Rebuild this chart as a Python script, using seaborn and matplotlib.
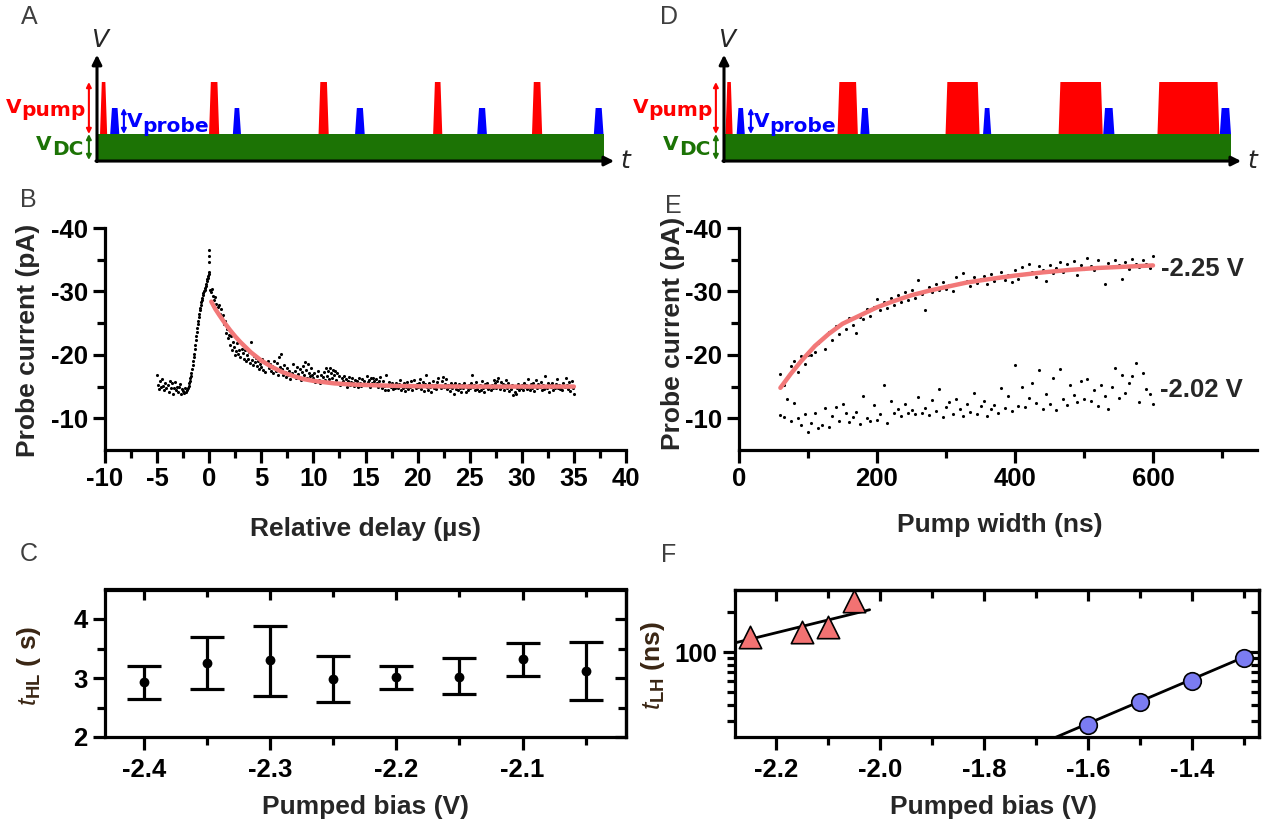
import numpy as np
import pandas as pd
import matplotlib
matplotlib.use('Agg')
import matplotlib.pyplot as plt
import seaborn as sns
from matplotlib.ticker import MultipleLocator, FixedLocator, FixedFormatter, NullFormatter, FormatStrFormatter

# ---------------- data ----------------
# A / D : pulse schematic (time in arbitrary units 0-100, levels in units of V_DC)
a_pump_start = [0.6, 22.1, 43.7, 66.3, 85.8]
a_pump_width = [1.4, 2.0, 2.0, 1.8, 2.0]
a_probe_start = [2.6, 26.8, 50.9, 75.0, 98.0]
a_probe_width = [1.8, 1.6, 1.9, 1.9, 1.9]

d_pump_start = [0.3, 22.4, 43.7, 66.0, 85.5]
d_pump_width = [1.4, 4.0, 6.7, 8.7, 12.2]
d_probe_start = [2.5, 26.9, 51.1, 74.8, 97.8]
d_probe_width = [1.6, 1.8, 1.6, 2.2, 2.2]

dc_level, probe_level, pump_level = 1.0, 2.0, 3.0

# B : probe current vs relative delay (us), sampled every 0.1 us
b_delay = np.linspace(-5.0, 35.0, 401)
b_current = [
    -16.8, -15.2, -14.6, -15.9, -14.9, -16.2, -15.1, -14.4, -15.6, -14.8,
    -15.3, -14.2, -15.8, -14.7, -15.5, -13.9, -14.8, -15.7, -14.5, -15.0,
    -14.1, -14.9, -15.4, -13.8, -14.6, -14.3, -14.0, -14.7, -14.2, -14.5,
    -14.8, -15.6, -16.3, -17.2, -18.4, -19.6, -20.9, -22.3, -23.6, -24.8,
    -26.0, -27.0, -27.9, -28.7, -29.4, -30.0, -30.6, -31.2, -31.9, -32.4,
    -33.0, -30.2, -29.9, -30.4, -29.3, -28.6, -29.1, -28.0, -27.6, -27.9,
    -26.5, -27.2, -25.8, -26.3, -24.9, -25.4, -23.4, -24.1, -22.6, -23.2,
    -21.5, -23.0, -20.8, -22.1, -21.2, -19.9, -20.6, -21.8, -20.1, -20.7,
    -19.6, -21.0, -20.3, -19.4, -20.8, -19.1, -20.0, -19.3, -20.5, -18.7,
    -22.0, -19.2, -18.4, -19.8, -18.9, -19.5, -18.2, -19.0, -17.8, -18.6,
    -18.1, -19.4, -17.6, -18.8, -17.3, -18.5, -19.1, -17.9, -18.6, -17.4,
    -18.3, -17.2, -19.0, -18.0, -17.5, -18.7, -16.9, -19.6, -18.1, -20.2,
    -17.8, -16.8, -18.4, -17.3, -16.5, -17.9, -16.9, -17.4, -16.2, -17.1,
    -18.6, -16.7, -17.5, -16.3, -18.1, -17.0, -16.5, -17.7, -16.1, -17.3,
    -18.2, -16.8, -18.9, -17.6, -16.4, -18.5, -17.2, -16.6, -17.9, -16.9,
    -16.3, -17.1, -15.7, -16.6, -17.4, -16.0, -15.5, -16.8, -15.9, -16.5,
    -17.3, -16.1, -17.9, -16.7, -17.5, -16.2, -18.0, -17.1, -16.4, -17.6,
    -16.8, -17.5, -16.0, -17.2, -15.6, -16.7, -15.3, -16.4, -15.8, -16.6,
    -15.4, -16.2, -15.0, -15.9, -16.5, -15.2, -15.7, -16.3, -15.5, -15.1,
    -16.0, -15.3, -15.8, -14.9, -16.4, -15.6, -15.1, -16.2, -15.4, -15.9,
    -15.2, -16.6, -15.7, -16.1, -15.0, -16.4, -15.5, -16.3, -15.8, -15.3,
    -16.2, -15.6, -15.0, -15.9, -16.5, -15.3, -14.7, -15.8, -15.1, -14.5,
    -16.9, -15.2, -14.4, -15.7, -14.9, -15.5, -14.6, -15.3, -14.8, -15.6,
    -15.1, -14.7, -15.4, -16.0, -14.5, -15.2, -14.8, -15.6, -14.3, -15.0,
    -15.7, -14.6, -15.3, -14.9, -15.8, -14.4, -15.2, -16.1, -14.7, -15.4,
    -14.9, -15.5, -16.2, -14.6, -15.1, -15.7, -14.3, -15.4, -16.8, -15.0,
    -14.5, -15.6, -15.0, -14.2, -15.3, -15.9, -14.8, -15.2, -14.6, -15.7,
    -16.3, -15.1, -14.7, -15.8, -16.5, -14.9, -15.4, -16.2, -14.6, -15.3,
    -15.0, -14.3, -15.6, -14.8, -15.2, -13.9, -15.5, -14.6, -15.1, -14.4,
    -15.4, -14.8, -14.1, -15.3, -14.7, -15.6, -14.2, -15.0, -14.5, -15.2,
    -14.7, -15.5, -16.9, -14.9, -15.3, -14.4, -15.7, -14.6, -15.1, -14.3,
    -15.2, -14.5, -15.8, -14.8, -14.1, -15.4, -14.9, -15.6, -14.6, -15.0,
    -14.4, -15.3, -14.7, -16.1, -15.5, -14.8, -15.9, -16.3, -15.1, -14.6,
    -15.7, -14.9, -15.4, -14.5, -15.2, -16.0, -14.8, -15.5, -14.3, -15.1,
    -14.6, -15.3, -13.6, -14.2, -13.9, -14.8, -15.4, -14.5, -15.0, -14.7,
    -15.2, -14.4, -15.6, -14.9, -15.3, -14.6, -16.2, -15.0, -14.5, -15.4,
    -14.8, -15.5, -14.3, -15.1, -16.0, -14.7, -15.4, -14.9, -15.7, -14.4,
    -15.3, -14.6, -16.6, -15.0, -14.8, -15.5, -14.2, -15.2, -14.9, -15.6,
    -14.5, -15.1, -14.7, -15.4, -16.2, -14.8, -15.3, -14.6, -15.0, -14.4,
    -15.5, -14.9, -16.4, -15.2, -14.6, -15.7, -14.3, -15.1, -15.8, -14.7,
    -13.9,
]
# extra samples on the rising edge and the spike at zero delay
b_rise_delay = np.linspace(-1.95, -0.05, 20)
b_rise_current = [-15.1, -15.9, -16.7, -17.8, -19.0, -20.2, -21.6, -22.9, -24.2, -25.4,
                  -26.5, -27.4, -28.3, -29.0, -29.7, -30.3, -30.9, -31.6, -32.1, -32.8]
b_spike_delay = [-0.05, 0.0, 0.0]
b_spike_current = [-34.6, -35.6, -36.6]

b_fit_delay = [0.2, 0.6, 1.0, 1.5, 2.0, 2.5, 3.0, 3.5, 4.0, 5.0, 6.0, 7.0,
               8.0, 9.0, 10.0, 12.0, 14.0, 16.0, 18.0, 20.0, 25.0, 30.0, 35.0]
b_fit_current = [-28.4, -27.2, -26.2, -25.0, -23.9, -22.9, -22.0, -21.2, -20.4, -19.1, -18.1, -17.3,
                 -16.7, -16.2, -15.9, -15.5, -15.3, -15.2, -15.1, -15.05, -15.0, -15.0, -15.0]

# C : t_HL vs pumped bias
c_bias = [-2.40, -2.35, -2.30, -2.25, -2.20, -2.15, -2.10, -2.05]
c_thl = [2.94, 3.25, 3.30, 2.99, 3.02, 3.02, 3.32, 3.12]
c_low = [2.65, 2.81, 2.70, 2.60, 2.81, 2.73, 3.03, 2.63]
c_high = [3.21, 3.69, 3.88, 3.38, 3.20, 3.34, 3.60, 3.61]

# E : probe current vs pump width (ns), sampled every 5 ns
e_width = np.arange(60, 601, 5)
e_current_225 = [
    -17.0, -15.3, -16.4, -18.2, -19.0, -17.3, -19.8, -18.6, -20.0, -19.9,
    -20.5, -21.9, -22.5, -21.0, -23.6, -22.4, -24.5, -23.3, -25.0, -24.1,
    -25.8, -24.7, -23.4, -26.0, -25.6, -27.3, -26.2, -27.6, -28.8, -27.1,
    -28.3, -27.4, -28.9, -27.8, -29.5, -28.4, -29.9, -28.7, -30.2, -29.0,
    -31.8, -29.6, -27.1, -30.7, -29.9, -31.2, -30.3, -31.5, -30.4, -31.0,
    -30.0, -32.3, -31.3, -32.9, -31.6, -30.8, -32.2, -31.4, -31.9, -32.4,
    -31.2, -32.8, -31.6, -32.1, -33.0, -31.8, -32.6, -31.5, -33.3, -32.0,
    -33.8, -32.7, -34.4, -33.1, -32.2, -34.0, -33.4, -31.6, -34.2, -32.9,
    -33.7, -34.6, -33.0, -34.3, -33.5, -34.8, -32.6, -34.1, -33.6, -35.2,
    -34.0, -33.3, -34.9, -33.8, -31.2, -34.5, -33.9, -35.0, -34.2, -32.0,
    -34.7, -33.6, -35.1, -34.3, -33.8, -34.9, -34.4, -33.7, -35.6,
]
e_current_202 = [
    -10.5, -10.2, -13.0, -9.6, -12.4, -10.1, -8.9, -10.6, -7.8, -9.3,
    -10.9, -8.4, -9.0, -11.6, -8.7, -10.3, -11.8, -9.5, -12.3, -10.8,
    -9.4, -10.2, -11.0, -9.1, -13.5, -10.0, -9.6, -12.1, -9.7, -10.6,
    -15.3, -9.2, -12.8, -10.9, -11.5, -10.4, -12.2, -10.8, -11.3, -10.6,
    -13.4, -10.9, -11.7, -10.5, -12.9, -11.1, -14.6, -10.2, -11.8, -12.6,
    -10.7, -13.1, -11.4, -10.4, -12.3, -11.0, -14.0, -10.6, -11.9, -12.8,
    -10.3, -11.5, -12.1, -10.9, -14.8, -11.6, -13.5, -11.2, -18.4, -12.0,
    -14.9, -11.8, -13.2, -15.6, -12.4, -17.6, -11.5, -13.8, -12.2, -16.4,
    -11.3, -17.7, -13.0, -12.1, -15.3, -13.6, -12.6, -15.8, -13.1, -16.2,
    -12.8, -14.4, -12.0, -15.2, -13.5, -11.4, -14.9, -17.9, -13.2, -16.8,
    -14.0, -15.5, -16.7, -18.7, -12.5, -17.2, -14.6, -13.9, -12.2,
]
e_fit_width = [60, 75, 90, 110, 130, 150, 175, 200, 225, 250, 275, 300,
               330, 360, 400, 440, 480, 520, 560, 600]
e_fit_current = [-14.8, -17.0, -19.0, -21.4, -23.3, -24.9, -26.2, -27.5, -28.5, -29.4, -30.1, -30.7,
                 -31.4, -31.9, -32.5, -33.0, -33.4, -33.7, -33.9, -34.1]
e_labels = ['-2.25 V', '-2.02 V']
e_label_pos = [(612, -33.5), (610, -14.4)]

# F : t_LH vs pumped bias (log scale)
f_tri_bias = [-2.25, -2.15, -2.10, -2.05]
f_tri_tlh = [131, 143, 156, 242]
f_circ_bias = [-1.6, -1.5, -1.4, -1.3]
f_circ_tlh = [27.8, 41.5, 60.3, 90.1]
f_tri_fit_bias = [-2.28, -2.02]
f_tri_fit_tlh = [117, 209]
f_circ_fit_bias = [-1.70, -1.29]
f_circ_fit_tlh = [19.5, 95]

# ---------------- style ----------------
sns.set_theme(style='ticks')
plt.rcParams.update({
    'font.family': ['Liberation Sans', 'DejaVu Sans'],
    'font.weight': 'bold',
    'axes.labelweight': 'bold',
    'axes.unicode_minus': False,
    'mathtext.fontset': 'custom',
    'mathtext.it': 'Liberation Sans:slant=italic:weight=normal',
    'mathtext.rm': 'Liberation Sans:weight=bold',
    'mathtext.bf': 'Liberation Sans:weight=bold',
    'axes.edgecolor': 'black',
    'xtick.color': 'black',
    'ytick.color': 'black',
})

W, H = 1262, 826
fig = plt.figure(figsize=(W / 100, H / 100), dpi=100)
fig.patch.set_facecolor('white')

FIT = '#f27878'
RED, BLUE, GREEN = '#ff0000', '#0000ff', '#1c7305'
LETTER = '#3f3f3f'
TICK_FS, LAB_FS = 18.5, 19


def add_ax(box):
    l, t, r, b = box
    return fig.add_axes([l / W, 1 - b / H, (r - l) / W, (b - t) / H])


def letter(s, x, y):
    fig.text(x / W, 1 - y / H, s, fontsize=18, color=LETTER, fontweight='normal',
             ha='center', va='center')


def style(ax, boxed=False):
    for s in ['left', 'bottom', 'top', 'right']:
        ax.spines[s].set_linewidth(2.3)
        ax.spines[s].set_color('black')
    if not boxed:
        ax.spines['top'].set_visible(False)
        ax.spines['right'].set_visible(False)
    ax.tick_params(which='major', direction='out', length=9, width=2.3, labelsize=TICK_FS, pad=3.5)
    ax.tick_params(which='minor', direction='out', length=5.5, width=2.3)
    ax.grid(False)


def labels(ax, box, xlab, ylab, xpos, ypos):
    l, t, r, b = box
    ax.set_xlabel(xlab, fontsize=LAB_FS, fontweight='bold')
    ax.set_ylabel(ylab, fontsize=LAB_FS, fontweight='bold')
    ax.xaxis.set_label_coords((xpos[0] - l) / (r - l), (b - xpos[1]) / (b - t))
    ax.yaxis.set_label_coords((ypos[0] - l) / (r - l), (b - ypos[1]) / (b - t))
    ax.xaxis.label.set_verticalalignment('center')
    ax.yaxis.label.set_verticalalignment('center')


def mirror(ax, xmaj, xmin, ymaj, ymin):
    sx = ax.secondary_xaxis('top')
    sx.set_xticks(xmaj)
    sx.set_xticks(xmin, minor=True)
    sx.tick_params(which='both', direction='in', width=2.3, labeltop=False)
    sx.tick_params(which='major', length=8)
    sx.tick_params(which='minor', length=6)
    sx.spines['top'].set_linewidth(2.3)
    sy = ax.secondary_yaxis('right')
    sy.set_yticks(ymaj)
    sy.set_yticks(ymin, minor=True)
    sy.yaxis.set_minor_formatter(NullFormatter())
    sy.tick_params(which='both', direction='in', width=2.3, labelright=False)
    sy.tick_params(which='major', length=8)
    sy.tick_params(which='minor', length=6)
    sy.spines['right'].set_linewidth(2.3)


# ---------------- A and D : pulse schematics ----------------
XS, YS = 5.07, 26.0   # pixels per time unit / per level unit


def schematic(ax, pump_start, pump_width, probe_start, probe_width):
    ax.set_xlim(-97 / XS, (630 - 97) / XS)
    ax.set_ylim(-20 / YS, 160 / YS)
    ax.axis('off')
    ramp = 0.35
    ax.fill([0, 100, 100, 0], [0, 0, dc_level, dc_level], color=GREEN, lw=0, zorder=2)
    for s, w in zip(pump_start, pump_width):
        ax.fill([s, s + ramp, s + w - ramp, s + w],
                [dc_level, pump_level, pump_level, dc_level], color=RED, lw=0, zorder=2)
    for s, w in zip(probe_start, probe_width):
        ax.fill([s, s + ramp, s + w - ramp, s + w],
                [dc_level, probe_level, probe_level, dc_level], color=BLUE, lw=0, zorder=2)
    arrow = dict(arrowstyle='-|>', color='black', lw=2.2, mutation_scale=14, shrinkA=0, shrinkB=0)
    ax.annotate('', xy=(0, 4.05), xytext=(0, -0.06), arrowprops=arrow, zorder=3)
    ax.annotate('', xy=(102.0, -0.04), xytext=(-0.2, -0.04), arrowprops=arrow, zorder=3)
    ax.text(0.6, 4.33, 'V', fontsize=18, style='italic', fontweight='normal', ha='center',
            va='baseline', family='DejaVu Sans')
    ax.text(103.2, -0.05, 't', fontsize=18, style='italic', fontweight='normal', ha='left',
            va='center', family='DejaVu Sans')
    dbl = dict(arrowstyle='<|-|>', lw=1.5, mutation_scale=7, shrinkA=0, shrinkB=0)
    ax.annotate('', xy=(-1.6, pump_level), xytext=(-1.6, dc_level), arrowprops={**dbl, 'color': RED})
    ax.annotate('', xy=(-1.6, dc_level), xytext=(-1.6, 0), arrowprops={**dbl, 'color': GREEN})
    ax.annotate('', xy=(5.3, probe_level), xytext=(5.3, dc_level), arrowprops={**dbl, 'color': BLUE})
    tk = dict(fontsize=14.5, fontweight='bold', family='DejaVu Sans', va='baseline')
    ax.text(-14.9, 1.81, 'V', color=RED, ha='right', **tk)
    ax.text(-14.9, 1.69, 'pump', color=RED, ha='left', **tk)
    ax.text(-8.9, 0.38, 'V', color=GREEN, ha='right', **tk)
    ax.text(-8.9, 0.19, 'DC', color=GREEN, ha='left', **tk)
    ax.text(8.9, 1.27, 'V', color=BLUE, ha='right', **tk)
    ax.text(8.9, 1.08, 'probe', color=BLUE, ha='left', **tk)


ax_a = add_ax((0, 0, 630, 180))
schematic(ax_a, a_pump_start, a_pump_width, a_probe_start, a_probe_width)
ax_d = add_ax((627, 0, 1257, 180))
schematic(ax_d, d_pump_start, d_pump_width, d_probe_start, d_probe_width)

# ---------------- B ----------------
box_b = (105, 228, 626, 450)
ax_b = add_ax(box_b)
sns.scatterplot(x=b_delay, y=b_current, ax=ax_b, color='black', s=5, linewidth=0, legend=False)
sns.scatterplot(x=b_rise_delay, y=b_rise_current, ax=ax_b, color='black', s=5, linewidth=0, legend=False)
sns.scatterplot(x=b_spike_delay, y=b_spike_current, ax=ax_b, color='black', s=5, linewidth=0, legend=False)
sns.lineplot(x=b_fit_delay, y=b_fit_current, ax=ax_b, color=FIT, lw=3.2, zorder=3)
ax_b.set_xlim(-10, 40)
ax_b.set_ylim(-5, -40)
ax_b.xaxis.set_major_locator(MultipleLocator(5))
ax_b.xaxis.set_minor_locator(MultipleLocator(2.5))
ax_b.yaxis.set_major_locator(FixedLocator([-10, -20, -30, -40]))
ax_b.yaxis.set_minor_locator(FixedLocator([-15, -25, -35]))
style(ax_b)
labels(ax_b, box_b, 'Relative delay (µs)', 'Probe current (pA)', (365, 529), (28, 340))

# ---------------- E ----------------
box_e = (739, 228, 1256.5, 450)
ax_e = add_ax(box_e)
sns.scatterplot(x=e_width, y=e_current_225, ax=ax_e, color='black', s=5, linewidth=0, legend=False)
sns.scatterplot(x=e_width, y=e_current_202, ax=ax_e, color='black', s=5, linewidth=0, legend=False)
sns.lineplot(x=e_fit_width, y=e_fit_current, ax=ax_e, color=FIT, lw=3.2, zorder=3)
for txt, (x, y) in zip(e_labels, e_label_pos):
    ax_e.text(x, y, txt, fontsize=TICK_FS, fontweight='bold', ha='left', va='center')
ax_e.set_xlim(0, 750)
ax_e.set_ylim(-5, -40)
ax_e.xaxis.set_major_locator(FixedLocator([0, 200, 400, 600]))
ax_e.xaxis.set_minor_locator(FixedLocator([100, 300, 500, 700]))
ax_e.yaxis.set_major_locator(FixedLocator([-10, -20, -30, -40]))
ax_e.yaxis.set_minor_locator(FixedLocator([-15, -25, -35]))
style(ax_e)
labels(ax_e, box_e, 'Pump width (ns)', 'Probe current (pA)', (1000, 525), (673, 333))

# ---------------- C ----------------
box_c = (105, 589.5, 626, 737)
ax_c = add_ax(box_c)
c_t = np.array(c_thl)
ax_c.errorbar(c_bias, c_t, yerr=[c_t - np.array(c_low), np.array(c_high) - c_t], fmt='none',
              ecolor='black', elinewidth=2.3, capsize=12, capthick=2.3)
sns.scatterplot(x=c_bias, y=c_thl, ax=ax_c, color='black', s=50, linewidth=0, legend=False, zorder=3)
ax_c.set_xlim(-2.431, -2.018)
ax_c.set_ylim(2, 4.5)
c_xmaj, c_xmin = [-2.4, -2.3, -2.2, -2.1], [-2.35, -2.25, -2.15, -2.05]
ax_c.xaxis.set_major_locator(FixedLocator(c_xmaj))
ax_c.xaxis.set_minor_locator(FixedLocator(c_xmin))
ax_c.xaxis.set_major_formatter(FormatStrFormatter('%.1f'))
ax_c.yaxis.set_major_locator(FixedLocator([2, 3, 4]))
ax_c.yaxis.set_minor_locator(FixedLocator([2.5, 3.5]))
style(ax_c, boxed=True)
ax_c.tick_params(axis='x', which='major', pad=6)
mirror(ax_c, c_xmaj, c_xmin, [2, 3, 4], [2.5, 3.5])
labels(ax_c, box_c, 'Pumped bias (V)', r'$t_{\mathrm{HL}}$ ( s)', (365, 807), (29, 666))
ax_c.yaxis.label.set_color('#3a2614')

# ---------------- F ----------------
box_f = (735, 590, 1259, 737)
ax_f = add_ax(box_f)
sns.lineplot(x=f_tri_fit_bias, y=f_tri_fit_tlh, ax=ax_f, color='black', lw=2.0)
sns.lineplot(x=f_circ_fit_bias, y=f_circ_fit_tlh, ax=ax_f, color='black', lw=2.0)
sns.scatterplot(x=f_tri_bias, y=f_tri_tlh, ax=ax_f, marker='^', s=260, color='#f27272',
                edgecolor='black', linewidth=1.2, legend=False, zorder=3)
sns.scatterplot(x=f_circ_bias, y=f_circ_tlh, ax=ax_f, marker='o', s=160, color='#7b7cf2',
                edgecolor='black', linewidth=1.2, legend=False, zorder=3)
ax_f.set_yscale('log')
ax_f.set_xlim(-2.279, -1.271)
ax_f.set_ylim(22.7, 295)
f_xmaj = [-2.2, -2.0, -1.8, -1.6, -1.4]
f_xmin = [-2.1, -1.9, -1.7, -1.5, -1.3]
f_ymin = [30, 40, 50, 60, 70, 80, 90, 200]
ax_f.xaxis.set_major_locator(FixedLocator(f_xmaj))
ax_f.xaxis.set_minor_locator(FixedLocator(f_xmin))
ax_f.xaxis.set_major_formatter(FormatStrFormatter('%.1f'))
ax_f.yaxis.set_major_locator(FixedLocator([100]))
ax_f.yaxis.set_major_formatter(FixedFormatter(['100']))
ax_f.yaxis.set_minor_locator(FixedLocator(f_ymin))
ax_f.yaxis.set_minor_formatter(NullFormatter())
style(ax_f, boxed=True)
ax_f.tick_params(axis='x', which='major', pad=6)
mirror(ax_f, f_xmaj, f_xmin, [100], f_ymin)
labels(ax_f, box_f, 'Pumped bias (V)', r'$t_{\mathrm{LH}}$ (ns)', (994, 807), (653, 665))
ax_f.yaxis.label.set_color('#3a2614')

# ---------------- panel letters ----------------
for s, x, y in [('A', 29, 17), ('B', 28, 200), ('C', 29, 554),
                ('D', 669, 17), ('E', 673, 206), ('F', 669, 555)]:
    letter(s, x, y)

fig.savefig('out.png', dpi=100)
